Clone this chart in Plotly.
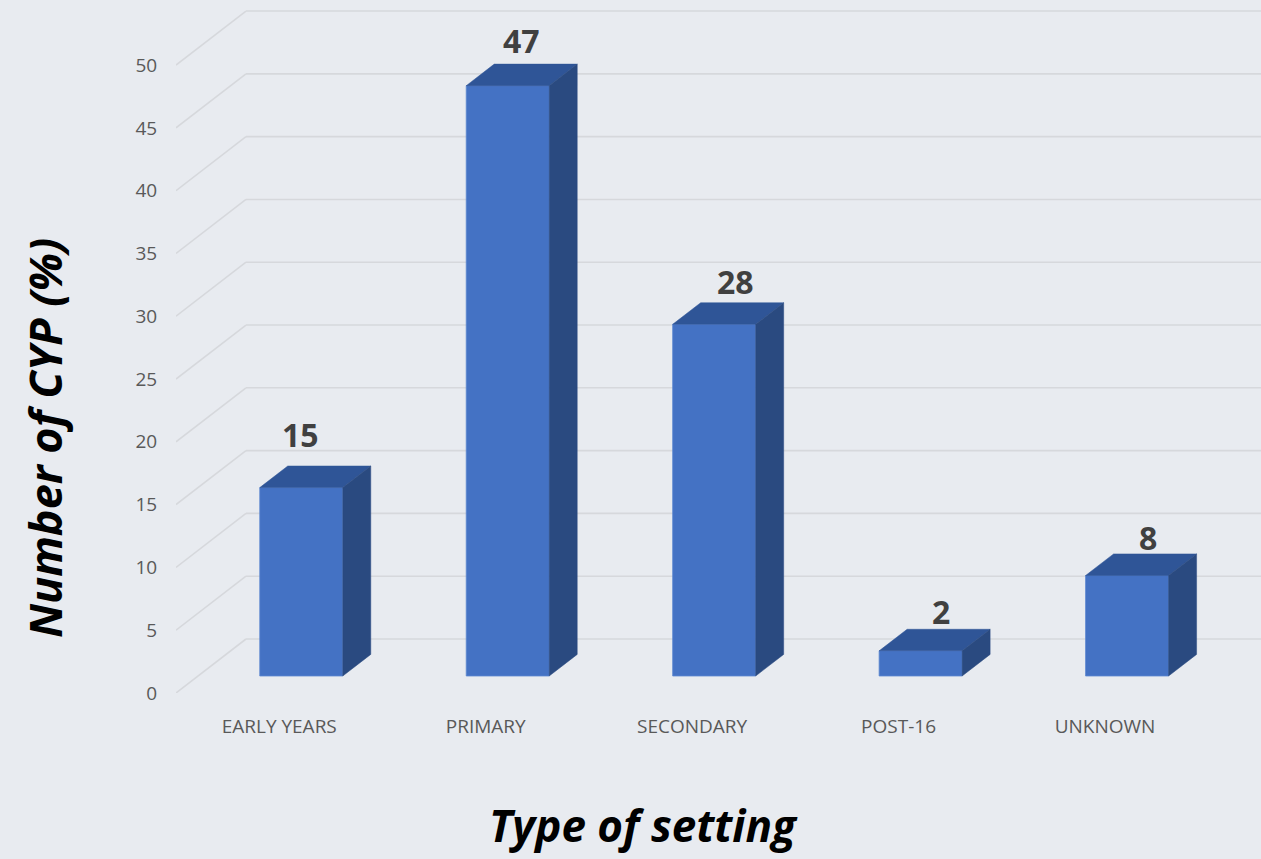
import plotly.graph_objects as go

# Data
categories = ["EARLY YEARS", "PRIMARY", "SECONDARY", "POST-16", "UNKNOWN"]
values = [15, 47, 28, 2, 8]
y_ticks = [0, 5, 10, 15, 20, 25, 30, 35, 40, 45, 50]

# Styling / pseudo-3D geometry (oblique projection in data units)
BG = "#E8EBF0"
GRID = "#D6D8DC"
FRONT = "#4472C4"
TOP = "#2F5597"
SIDE = "#2A4A80"
DEPTH_X = 0.339      # full floor depth, x direction (category units)
DEPTH_Y = 4.30       # full floor depth, y direction (value units)
BAR_D0 = 0.315       # bar front face position within the depth
BAR_D1 = 0.715       # bar back face position within the depth
BAR_W = 0.402
X_MIN, X_MAX = -0.5, 4.7554
Y_MIN, Y_MAX = 0.0, 55.18

# label offsets in pixels (x, y) relative to the top face centre / back edge
label_dx = [-15, 0, 7, 6, 7]
label_dy = [32, 24, 21, 18, 16]

fig = go.Figure()

# back wall + side wall gridlines
shapes = []
for v in y_ticks:
    shapes.append(dict(type="line", layer="below", xref="x", yref="y",
                       x0=X_MIN, y0=v, x1=X_MIN + DEPTH_X, y1=v + DEPTH_Y,
                       line=dict(color=GRID, width=1.6)))
    shapes.append(dict(type="line", layer="below", xref="x", yref="y",
                       x0=X_MIN + DEPTH_X, y0=v + DEPTH_Y, x1=X_MAX, y1=v + DEPTH_Y,
                       line=dict(color=GRID, width=1.6)))

ox0, oy0 = BAR_D0 * DEPTH_X, BAR_D0 * DEPTH_Y
ddx, ddy = (BAR_D1 - BAR_D0) * DEPTH_X, (BAR_D1 - BAR_D0) * DEPTH_Y

# front faces
fig.add_trace(go.Bar(
    x=[i + ox0 for i in range(len(values))], y=values, base=oy0, width=BAR_W,
    marker=dict(color=FRONT, line=dict(color="#5B86D0", width=0.8)),
    hoverinfo="skip", showlegend=False,
))

annotations = []
for i, v in enumerate(values):
    xl = i + ox0 - BAR_W / 2
    xr = i + ox0 + BAR_W / 2
    yb = oy0
    yt = oy0 + v
    # top face
    fig.add_trace(go.Scatter(
        x=[xl, xr, xr + ddx, xl + ddx, xl],
        y=[yt, yt, yt + ddy, yt + ddy, yt],
        fill="toself", fillcolor=TOP, mode="lines",
        line=dict(color=TOP, width=0.5), hoverinfo="skip", showlegend=False,
    ))
    # side face
    fig.add_trace(go.Scatter(
        x=[xr, xr, xr + ddx, xr + ddx, xr],
        y=[yb, yt, yt + ddy, yb + ddy, yb],
        fill="toself", fillcolor=SIDE, mode="lines",
        line=dict(color=SIDE, width=0.5), hoverinfo="skip", showlegend=False,
    ))
    annotations.append(dict(
        x=i + ox0 + ddx / 2, y=yt + ddy, xref="x", yref="y",
        text=f"<b>{v}</b>", showarrow=False, xanchor="center", yanchor="middle",
        xshift=label_dx[i], yshift=label_dy[i],
        font=dict(family="Open Sans", size=32, color="#404040"),
    ))

# axis titles
annotations.append(dict(
    x=-0.1207, y=0.368, xref="paper", yref="paper", textangle=-90,
    text="<b><i>Number of CYP (%)</i></b>", showarrow=False,
    xanchor="center", yanchor="middle",
    font=dict(family="Open Sans", size=45, color="#000000"),
))
annotations.append(dict(
    x=0.431, y=-0.2365, xref="paper", yref="paper",
    text="<b><i>Type of setting</i></b>", showarrow=False,
    xanchor="center", yanchor="bottom",
    font=dict(family="Open Sans", size=44, color="#000000"),
))

fig.update_layout(
    width=1261, height=859,
    margin=dict(l=176, r=0, t=0, b=166),
    paper_bgcolor=BG, plot_bgcolor=BG,
    shapes=shapes, annotations=annotations,
    showlegend=False,
    xaxis=dict(range=[X_MIN, X_MAX], showgrid=False, zeroline=False, showline=False,
               tickmode="array", tickvals=list(range(len(categories))), ticktext=categories,
               ticks="outside", ticklen=16, tickcolor="rgba(0,0,0,0)",
               tickfont=dict(family="Open Sans", size=19, color="#595959")),
    yaxis=dict(range=[Y_MIN, Y_MAX], showgrid=False, zeroline=False, showline=False,
               tickmode="array", tickvals=y_ticks,
               ticks="outside", ticklen=14, tickcolor="rgba(0,0,0,0)",
               tickfont=dict(family="Open Sans", size=19, color="#595959")),
)

fig.write_html("out.html")
